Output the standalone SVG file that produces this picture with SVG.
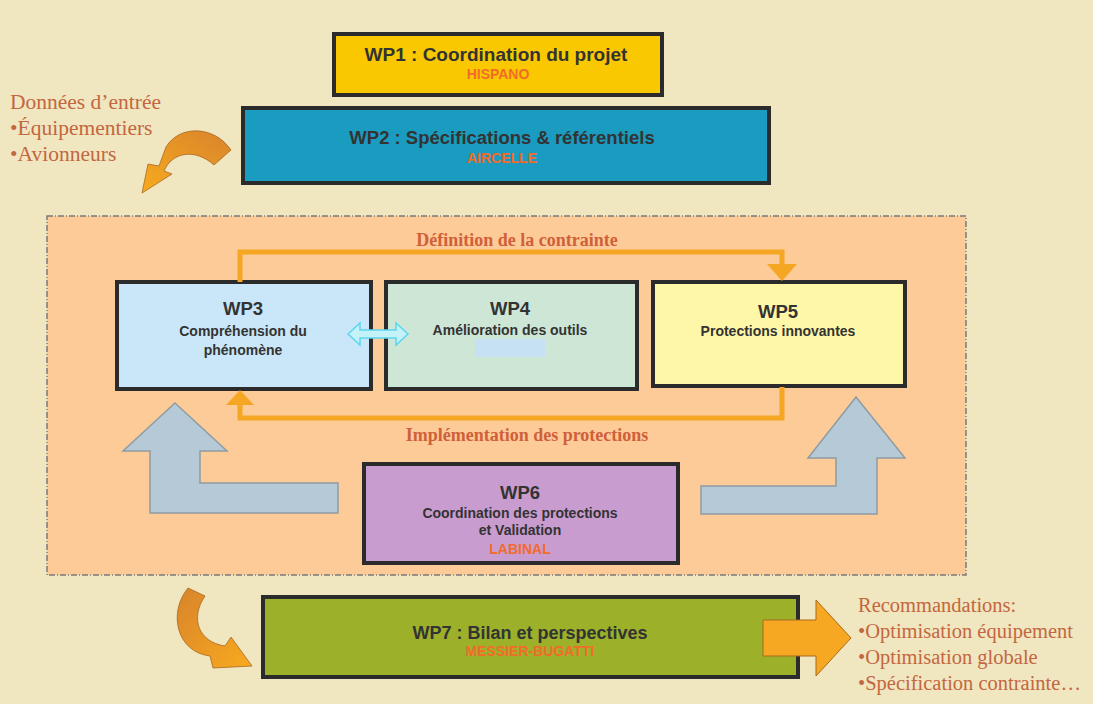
<svg xmlns="http://www.w3.org/2000/svg" width="1093" height="704" viewBox="0 0 1093 704">
<defs>
<style>
.box{stroke:#2b2b2b;stroke-width:4}
.t{font-family:"Liberation Sans",Arial,sans-serif;font-weight:bold;fill:#333;text-anchor:middle}
.org{font-family:"Liberation Sans",Arial,sans-serif;font-weight:bold;fill:#F26B2A;text-anchor:middle;font-size:14px}
.ann{font-family:"Liberation Serif","Times New Roman",serif;fill:#C4663F}
.annb{font-family:"Liberation Serif","Times New Roman",serif;fill:#D0603A;font-weight:bold;font-size:18px;text-anchor:middle}
.conn{fill:none;stroke:#F5A623;stroke-width:5}
.head{fill:#F5A623}
.blue{fill:#B5C9D6;stroke:#8E9CA2;stroke-width:1.5}
</style>
<linearGradient id="g1" x1="1" y1="0" x2="0" y2="1">
<stop offset="0" stop-color="#D8842C"/><stop offset="1" stop-color="#F8AA1E"/>
</linearGradient>
<linearGradient id="g2" x1="0" y1="0" x2="1" y2="1">
<stop offset="0" stop-color="#D8842C"/><stop offset="1" stop-color="#F8AA1E"/>
</linearGradient>
</defs>
<rect x="0" y="0" width="1093" height="704" fill="#F0E6C0"/>

<g id="container">
<rect x="47" y="216" width="919" height="359" fill="#FDCB98" stroke="#7a7a7a" stroke-width="1.5" stroke-dasharray="6,2,1,2"/>
</g>

<g id="inputs">
<text class="ann" x="10" y="109" font-size="21.5">Données d’entrée</text>
<text class="ann" x="10" y="135" font-size="21.5">•Équipementiers</text>
<text class="ann" x="10" y="161" font-size="21.5">•Avionneurs</text>
</g>

<g id="recommandations">
<text class="ann" x="858" y="612" font-size="20.5">Recommandations:</text>
<text class="ann" x="858" y="638" font-size="20.5">•Optimisation équipement</text>
<text class="ann" x="858" y="664" font-size="20.5">•Optimisation globale</text>
<text class="ann" x="858" y="690" font-size="20.5">•Spécification contrainte…</text>
</g>

<g id="WP1">
<rect class="box" x="334" y="34" width="328" height="61" fill="#F9C800"/>
<text class="t" x="496" y="61" font-size="19">WP1 : Coordination du projet</text>
<text class="org" x="498" y="79">HISPANO</text>
</g>

<g id="WP2">
<rect class="box" x="243" y="108" width="526" height="75" fill="#1A9BC0"/>
<text class="t" x="502" y="144" font-size="18.5">WP2 : Spécifications &amp; référentiels</text>
<text class="org" x="502" y="163" fill="#E8603C">AIRCELLE</text>
</g>

<g id="WP3">
<rect class="box" x="117" y="282" width="254" height="107" fill="#C9E7F8"/>
<text class="t" x="243" y="315" font-size="18.5">WP3</text>
<text class="t" x="243" y="336" font-size="14">Compréhension du</text>
<text class="t" x="243" y="355" font-size="14">phénomène</text>
</g>

<g id="WP4">
<rect class="box" x="386" y="282" width="251" height="107" fill="#CDE6D6"/>
<rect x="475" y="339" width="70" height="18" fill="#C6E0F4"/>
<text class="t" x="510" y="315" font-size="18.5">WP4</text>
<text class="t" x="510" y="335" font-size="14">Amélioration des outils</text>
</g>

<g id="WP5">
<rect class="box" x="653" y="282" width="252" height="104" fill="#FFF7A8"/>
<text class="t" x="778" y="318" font-size="18.5">WP5</text>
<text class="t" x="778" y="336" font-size="14">Protections innovantes</text>
</g>

<g id="WP6">
<rect class="box" x="364" y="464" width="314" height="99" fill="#C99CD0"/>
<text class="t" x="520" y="499" font-size="18.5">WP6</text>
<text class="t" x="520" y="518" font-size="14">Coordination des protections</text>
<text class="t" x="520" y="535" font-size="14">et Validation</text>
<text class="org" x="520" y="554">LABINAL</text>
</g>

<g id="WP7">
<rect class="box" x="263" y="597" width="535" height="80" fill="#9CB02A"/>
<text class="t" x="530" y="639" font-size="18">WP7 : Bilan et perspectives</text>
<text class="org" x="530" y="656" font-size="13">MESSIER-BUGATTI</text>
</g>

<g id="connectors">
<path class="conn" d="M240,282 V252 H782 V268"/>
<polygon class="head" points="767,264 797,264 782,281"/>
<path class="conn" d="M782,387 V418 H240 V404"/>
<polygon class="head" points="226,405 254,405 240,390"/>
<text class="annb" x="517" y="246">Définition de la contrainte</text>
<text class="annb" x="527" y="441">Implémentation des protections</text>
<polygon points="348,334 360,323 360,330 396,330 396,323 408,334 396,345 396,338 360,338 360,345" fill="#C4F2F8" stroke="#5CD6F0" stroke-width="1.5"/>
<polygon class="blue" points="175,403 227,451 200,451 200,483 338,483 338,513 150,513 150,451 123,451"/>
<polygon class="blue" points="856,397 905,458 877,458 877,514 701,514 701,486 836,486 836,458 808,458"/>
<path d="M231,150 C215,126 180,124 166,147 L159,166 L148,164 L142,193 L172,174 L164,171 C172,152 195,148 214,165 Z" fill="url(#g1)" stroke="#A86A20" stroke-width="0.8"/>
<path d="M188,588 C168,612 176,652 210,656 L213,668 L252,666 L231,637 L225,646 C198,642 190,618 205,596 Z" fill="url(#g2)" stroke="#A86A20" stroke-width="0.8"/>
<polygon points="763,620 816,620 816,600 851,638 816,676 816,656 763,656" fill="#F7A823" stroke="#A86A20" stroke-width="1"/>
</g>
</svg>
